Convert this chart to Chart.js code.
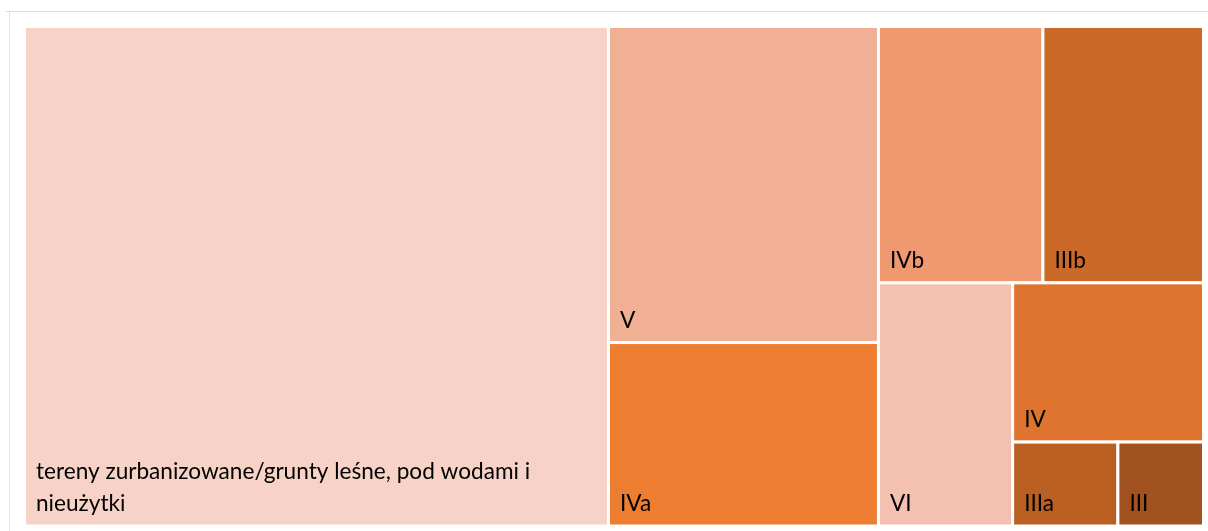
<!DOCTYPE html>
<html>
<head>
<meta charset="utf-8">
<script src="https://cdn.jsdelivr.net/npm/chart.js@4.4.0/dist/chart.umd.min.js"></script>
<style>
    html, body { margin: 0; padding: 0; background: #fff; overflow: hidden; }
    #wrap { position: relative; width: 1208px; height: 531px; }
    #ramkaGora { position: absolute; left: 6px; top: 11px; right: 0; height: 1px; background: #d9d9d9; }
    #ramkaLewa { position: absolute; left: 9px; top: 12px; bottom: 0; width: 1px; background: #e2e2e2; }
    #mapa { position: absolute; left: 0; top: 0; }
</style>
</head>
<body>
<div id="wrap">
    <div id="ramkaGora"></div>
    <div id="ramkaLewa"></div>
    <canvas id="mapa" width="1208" height="531"></canvas>
</div>
<script>
// klasy gruntow i ich udzial (%)
var _klasy = ['tereny zurbanizowane/grunty leśne, pod wodami i nieużytki', 'V', 'IVa', 'IVb', 'IIIb', 'VI', 'IV', 'IIIa', 'III'];
var _udzialy = [49.53, 14.49, 8.41, 7.16, 6.99, 5.54, 5.16, 1.50, 1.22];
var _kolory = ['#F6D3C6', '#F1AF94', '#ED7D31', '#F09870', '#CB6A28', '#F4C1B0', '#DF742E', '#BA5F22', '#A2521E'];
var _prostokaty = [];

// wspolczynnik "najgorszego" ksztaltu dla wiersza (algorytm squarified)
function najgorszy(wiersz, bok) {
    var suma = 0, mx = 0, mn = Infinity;
    wiersz.forEach(function (v) { suma += v; mx = Math.max(mx, v); mn = Math.min(mn, v); });
    return Math.max(bok * bok * mx / (suma * suma), suma * suma / (bok * bok * mn));
}

function ukladaj(pola, x, y, w, h) {
    var wynik = [];
    var i = 0;
    while (i < pola.length) {
        var bok = Math.min(w, h);
        var wiersz = [pola[i]];
        var j = i + 1;
        while (j < pola.length) {
            var nowy = wiersz.concat([pola[j]]);
            if (najgorszy(nowy, bok) <= najgorszy(wiersz, bok)) { wiersz = nowy; j++; } else break;
        }
        var suma = wiersz.reduce(function (a, b) { return a + b; }, 0);
        if (w >= h) {
            // kolumna z lewej
            var sz = suma / h, cy = y;
            wiersz.forEach(function (v) { wynik.push({ x: x, y: cy, w: sz, h: v / sz }); cy += v / sz; });
            x += sz; w -= sz;
        } else {
            // wiersz u gory
            var wy = suma / w, cx = x;
            wiersz.forEach(function (v) { wynik.push({ x: cx, y: y, w: v / wy, h: wy }); cx += v / wy; });
            y += wy; h -= wy;
        }
        i = j;
    }
    return wynik;
}

function zawijaj(ctx, tekst, maks) {
    var slowa = tekst.split(' ');
    var linie = [];
    var biezaca = '';
    slowa.forEach(function (s) {
        var proba = biezaca ? biezaca + ' ' + s : s;
        if (ctx.measureText(proba).width > maks && biezaca) {
            linie.push(biezaca);
            biezaca = s;
        } else {
            biezaca = proba;
        }
    });
    linie.push(biezaca);
    return linie;
}

var pluginMapa = {
    id: 'mapaDrzewa',
    afterLayout: function (chart) {
        var a = chart.chartArea;
        var proporcja = (a.right - a.left) / (a.bottom - a.top);
        var calosc = _udzialy.reduce(function (s, v) { return s + v; }, 0);
        var pola = _udzialy.map(function (v) { return v / calosc * proporcja * 100 * 100; });
        _prostokaty = ukladaj(pola, 0, 0, proporcja * 100, 100).map(function (r) {
            return { x: r.x / proporcja, y: r.y, w: r.w / proporcja, h: r.h };
        });
    },
    afterDatasetsDraw: function (chart) {
        var ctx = chart.ctx;
        var sx = chart.scales.x, sy = chart.scales.y;
        ctx.save();
        _prostokaty.forEach(function (r, i) {
            var x0 = sx.getPixelForValue(r.x), x1 = sx.getPixelForValue(r.x + r.w);
            var y0 = sy.getPixelForValue(r.y), y1 = sy.getPixelForValue(r.y + r.h);
            ctx.fillStyle = _kolory[i];
            ctx.fillRect(x0, y0, x1 - x0, y1 - y0);
            ctx.strokeStyle = '#ffffff';
            ctx.lineWidth = 3;
            ctx.strokeRect(x0, y0, x1 - x0, y1 - y0);

            ctx.font = '22.6px Lato';
            ctx.fillStyle = '#000000';
            ctx.textBaseline = 'alphabetic';
            var linie = zawijaj(ctx, _klasy[i], x1 - x0 - 24);
            var dol = y1 - 15;
            for (var k = linie.length - 1; k >= 0; k--) {
                ctx.fillText(linie[k], x0 + 11.5, dol);
                dol -= 32;
            }
        });
        ctx.restore();
    }
};

var _wykres = new Chart(document.getElementById('mapa').getContext('2d'), {
    type: 'scatter',
    data: {
        datasets: [{ data: [], pointRadius: 0 }]
    },
    options: {
        responsive: false,
        animation: false,
        layout: { padding: { left: 24.5, right: 4.5, top: 26.5, bottom: 5 } },
        plugins: { legend: { display: false }, tooltip: { enabled: false } },
        scales: {
            x: { display: false, min: 0, max: 100 },
            y: { display: false, min: 0, max: 100, reverse: true }
        }
    },
    plugins: [pluginMapa]
});
</script>
</body>
</html>
